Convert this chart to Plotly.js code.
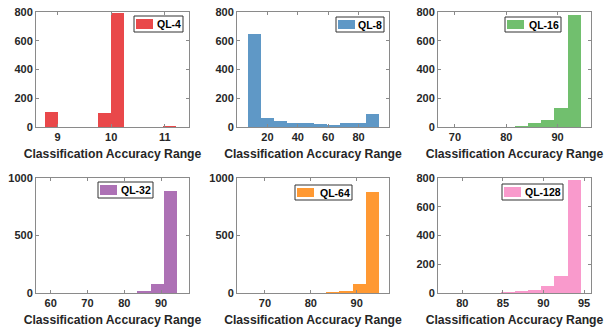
<!DOCTYPE html>
<html><head><meta charset="utf-8">
<script src="https://cdn.plot.ly/plotly-3.0.1.min.js"></script>
<style>html,body{margin:0;padding:0;background:#fff}#chart{width:604px;height:328px}</style>
</head><body><div id="chart"></div>
<script>
// ---- data: 10 histogram bins per panel (first bin left edge, bin width, counts) ----
const names = ['QL-4', 'QL-8', 'QL-16', 'QL-32', 'QL-64', 'QL-128'];
const binStart = [8.77, 7.3, 68.8, 58.2, 65.97, 78.3];
const binWidth = [0.244, 8.62, 2.57, 3.62, 2.89, 1.63];
const countsQL4   = [105, 0, 0, 0, 97, 795, 0, 0, 0, 4];
const countsQL8   = [650, 66, 44, 30, 26, 20, 16, 26, 30, 88];
const countsQL16  = [0, 0, 2, 0, 0, 9, 29, 46, 133, 778];
const countsQL32  = [0, 0, 0, 0, 0, 0, 0, 15, 76, 889];
const countsQL64  = [0, 0, 0, 0, 0, 0, 6, 19, 80, 876];
const countsQL128 = [0, 0, 0, 0, 5, 16, 19, 51, 115, 786];
const counts = [countsQL4, countsQL8, countsQL16, countsQL32, countsQL64, countsQL128];
const xTicks = [[9, 10, 11], [20, 40, 60, 80], [70, 80, 90], [60, 70, 80, 90], [70, 80, 90], [80, 85, 90, 95]];
const xRanges = [[8.6, 11.45], [0, 100], [66.7, 96.5], [56, 97.6], [63.9, 97.05], [77.0, 95.86]];
const yTicks = [[0, 200, 400, 600, 800], [0, 200, 400, 600, 800], [0, 200, 400, 600, 800],
                [0, 500, 1000], [0, 500, 1000], [0, 200, 400, 600, 800]];
const xLabel = 'Classification Accuracy Range';

// ---- styling ----
const colors = ['#E9484A', '#5F98C6', '#71BF6E', '#AD71B5', '#FF9933', '#F99ACC'];
const W = 604, H = 328;
const colPx = [[36, 189], [237, 389], [438, 591]];
const rowPx = [[12, 127], [178, 293]];
// legend boxes: [left, right, top, bottom] in px
const legendBox = [[134, 183, 16, 32], [336, 384, 17, 32], [505, 561, 17, 32],
                   [98, 153, 182, 198], [295, 352, 185, 200], [502, 563, 184, 200]];
const FONT = 'Arial, "Liberation Sans", sans-serif';
const axisColor = '#8a8a8a';
const textColor = '#262626';
const px = v => v / W, py = v => 1 - v / H;

const traces = [];
const shapes = [];
const annotations = [];
const layout = {
  width: W, height: H,
  margin: {l: 0, r: 0, t: 0, b: 0},
  paper_bgcolor: '#fff', plot_bgcolor: '#fff',
  font: {family: FONT, color: textColor},
  bargap: 0,
  barmode: 'overlay',
  showlegend: false,
  shapes: shapes,
  annotations: annotations
};

for (let i = 0; i < 6; i++) {
  const c = i % 3, r = Math.floor(i / 3);
  const sfx = i === 0 ? '' : String(i + 1);
  const centers = counts[i].map((_, k) => binStart[i] + (k + 0.5) * binWidth[i]);
  traces.push({
    type: 'bar',
    x: centers,
    y: counts[i],
    width: binWidth[i],
    name: names[i],
    marker: {color: colors[i], line: {width: 0}},
    xaxis: 'x' + sfx, yaxis: 'y' + sfx,
    hoverinfo: 'x+y'
  });
  const common = {
    showline: true, linecolor: axisColor, linewidth: 1, mirror: 'ticks',
    ticks: 'inside', ticklen: 3, tickcolor: axisColor, tickwidth: 1,
    showgrid: false, zeroline: false,
    tickfont: {family: FONT, size: 11, color: textColor, weight: 'bold'}
  };
  layout['xaxis' + sfx] = Object.assign({}, common, {
    domain: [px(colPx[c][0]), px(colPx[c][1])],
    anchor: 'y' + sfx,
    range: xRanges[i],
    tickmode: 'array', tickvals: xTicks[i],
    title: {text: xLabel, font: {family: FONT, size: 12.2, color: textColor, weight: 'bold'}, standoff: 7}
  });
  const ymax = yTicks[i][yTicks[i].length - 1];
  layout['yaxis' + sfx] = Object.assign({}, common, {
    domain: [py(rowPx[r][1]), py(rowPx[r][0])],
    anchor: 'x' + sfx,
    range: [0, ymax],
    tickmode: 'array', tickvals: yTicks[i]
  });
  // legend key (box, colour patch, label)
  const [L, R, T, B] = legendBox[i];
  shapes.push({type: 'rect', xref: 'paper', yref: 'paper',
    x0: px(L), x1: px(R), y0: py(B), y1: py(T),
    line: {color: '#333', width: 1}, fillcolor: '#fff'});
  shapes.push({type: 'rect', xref: 'paper', yref: 'paper',
    x0: px(L + 2), x1: px(L + 19), y0: py(B - 3), y1: py(T + 3),
    line: {width: 0}, fillcolor: colors[i]});
  annotations.push({xref: 'paper', yref: 'paper', x: px(R - 1), y: py((T + B) / 2),
    xanchor: 'right', yanchor: 'middle', showarrow: false, text: names[i], borderpad: 0,
    font: {family: FONT, size: 10.5, color: '#000', weight: 'bold'}});
}

Plotly.newPlot('chart', traces, layout, {staticPlot: true, displayModeBar: false});
</script>
</body></html>
